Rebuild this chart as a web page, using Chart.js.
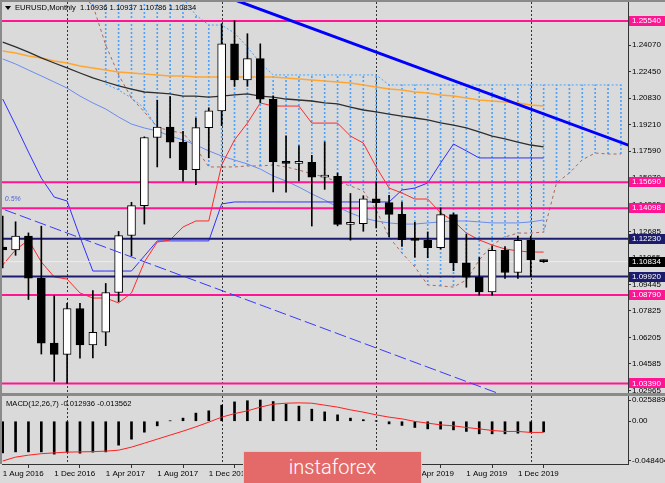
<!DOCTYPE html>
<html>
<head>
<meta charset="utf-8">
<script src="https://cdn.jsdelivr.net/npm/chart.js@4.4.1/dist/chart.umd.min.js"></script>
<style>
  html, body { margin: 0; padding: 0; background: #dadada; }
  #wrap { position: relative; width: 665px; height: 483px; overflow: hidden; background: #dadada; }
  #main { position: absolute; left: 0; top: 0; }
  #sub { position: absolute; left: 0; top: 395px; }
  #logo {
    position: absolute; left: 243px; top: 451px; width: 177px; height: 34px;
    background: #e46a6a; border: 1px solid #f2c4c4; color: #fff;
    font: 300 20px Roboto, "Open Sans", sans-serif; text-align: center; line-height: 30px;
  }
</style>
</head>
<body>
<div id="wrap">
  <canvas id="main" width="665" height="395"></canvas>
  <canvas id="sub" width="665" height="88"></canvas>
  <div id="logo">instaforex</div>
</div>
<script>
const months = ['Aug 2016','Sep 2016','Oct 2016','Nov 2016','Dec 2016','Jan 2017','Feb 2017','Mar 2017','Apr 2017',
  'May 2017','Jun 2017','Jul 2017','Aug 2017','Sep 2017','Oct 2017','Nov 2017','Dec 2017','Jan 2018','Feb 2018',
  'Mar 2018','Apr 2018','May 2018','Jun 2018','Jul 2018','Aug 2018','Sep 2018','Oct 2018','Nov 2018','Dec 2018',
  'Jan 2019','Feb 2019','Mar 2019','Apr 2019','May 2019','Jun 2019','Jul 2019','Aug 2019','Sep 2019','Oct 2019',
  'Nov 2019','Dec 2019','Jan 2020','Feb 2020'];

const open  = [1.1172,1.1155,1.1240,1.0983,1.0586,1.0517,1.0797,1.0575,1.0652,1.0895,1.1243,1.1426,1.1842,1.1905,1.1813,1.1645,1.1902,1.2005,1.2414,1.2193,1.2324,1.2076,1.1692,1.1684,1.1690,1.1600,1.1604,1.1311,1.1316,1.1467,1.1444,1.1372,1.1217,1.1213,1.1168,1.1371,1.1076,1.0988,1.0899,1.1152,1.1017,1.1213,1.10936];
const high  = [1.1362,1.1327,1.1259,1.1300,1.0874,1.0829,1.0829,1.0906,1.0950,1.1268,1.1446,1.1846,1.2070,1.2092,1.1880,1.1961,1.2023,1.2537,1.2555,1.2476,1.2414,1.2097,1.1852,1.1791,1.1733,1.1815,1.1625,1.1500,1.1486,1.1570,1.1489,1.1448,1.1324,1.1265,1.1412,1.1380,1.1250,1.1109,1.1179,1.1175,1.1240,1.1239,1.10937];
const low   = [1.1045,1.1122,1.0852,1.0519,1.0352,1.0340,1.0494,1.0495,1.0570,1.0839,1.1119,1.1313,1.1662,1.1717,1.1575,1.1554,1.1718,1.1915,1.2154,1.2155,1.2055,1.1510,1.1508,1.1577,1.1301,1.1525,1.1302,1.1215,1.1269,1.1289,1.1234,1.1176,1.1110,1.1107,1.1160,1.1028,1.0927,1.0879,1.0879,1.0981,1.0981,1.0992,1.10786];
const close = [1.1155,1.1240,1.0983,1.0586,1.0517,1.0797,1.0575,1.0652,1.0895,1.1243,1.1426,1.1842,1.1905,1.1813,1.1645,1.1902,1.2005,1.2414,1.2193,1.2324,1.2076,1.1692,1.1684,1.1690,1.1600,1.1604,1.1311,1.1316,1.1467,1.1444,1.1372,1.1217,1.1213,1.1168,1.1371,1.1076,1.0988,1.0899,1.1152,1.1017,1.1213,1.10936,1.10834];

const tenkan = [1.1063,1.1155,1.1216,1.1081,1.0990,1.0977,1.0892,1.0861,1.0861,1.0831,1.0892,1.1081,1.1203,1.1216,1.1295,1.1332,1.1332,1.1674,1.1827,1.1930,1.2053,1.2034,1.2034,1.2034,1.1930,1.1930,1.1930,1.1851,1.1808,1.1662,1.1533,1.1503,1.1466,1.1466,1.1381,1.1332,1.1258,1.1216,1.1185,1.1161,1.1149,1.1142,1.1142];
const kijun  = [1.2077,1.1918,1.1753,1.1594,1.1478,1.1454,1.1234,1.1026,1.1026,1.1026,1.1026,1.1118,1.1210,1.1210,1.1210,1.1210,1.1210,1.1436,1.1448,1.1448,1.1448,1.1448,1.1448,1.1448,1.1448,1.1448,1.1448,1.1448,1.1448,1.1448,1.1448,1.1521,1.1533,1.1564,1.1686,1.1802,1.1760,1.1717,1.1717,1.1717,1.1717,1.1717,1.1717];

const maFast = [1.2322,1.2291,1.2254,1.2218,1.2181,1.2144,1.2095,1.2053,1.2016,1.1967,1.1924,1.1900,1.1882,1.1851,1.1827,1.1796,1.1760,1.1729,1.1704,1.1680,1.1649,1.1607,1.1576,1.1539,1.1497,1.1460,1.1417,1.1381,1.1350,1.1332,1.1320,1.1313,1.1313,1.1320,1.1326,1.1332,1.1332,1.1326,1.1320,1.1320,1.1320,1.1326,1.1338];
const maMid  = [1.2425,1.2395,1.2364,1.2328,1.2297,1.2267,1.2236,1.2206,1.2181,1.2157,1.2138,1.2120,1.2114,1.2108,1.2095,1.2095,1.2089,1.2095,1.2102,1.2108,1.2095,1.2089,1.2077,1.2071,1.2065,1.2053,1.2047,1.2028,1.2010,1.1998,1.1985,1.1973,1.1961,1.1949,1.1931,1.1918,1.1900,1.1876,1.1851,1.1833,1.1814,1.1796,1.1784];
const maSlow = [1.2370,1.2358,1.2340,1.2328,1.2309,1.2297,1.2279,1.2267,1.2254,1.2242,1.2236,1.2230,1.2224,1.2218,1.2218,1.2212,1.2212,1.2212,1.2212,1.2212,1.2212,1.2212,1.2205,1.2199,1.2193,1.2187,1.2181,1.2175,1.2163,1.2150,1.2138,1.2132,1.2120,1.2114,1.2102,1.2095,1.2083,1.2071,1.2065,1.2059,1.2053,1.2040,1.2034];

// cloud spans run 6 months past the last candle
const spanA = [1.3415,1.3293,1.3171,1.3049,1.2926,1.2804,1.2713,1.2650,1.2407,1.2224,1.2083,1.1998,1.1906,1.1882,1.1869,1.1778,1.1662,1.1662,1.1662,1.1668,1.1668,1.1674,1.1662,1.1643,1.1619,1.1601,1.1570,1.1546,1.1515,1.1399,1.1234,1.1136,1.1051,1.0941,1.0935,1.0928,1.0971,1.1093,1.1185,1.1234,1.1258,1.1258,1.1264,1.1564,1.1625,1.1706,1.1747,1.1741,1.1741];
const spanB = [1.2950,1.2950,1.2950,1.2950,1.2950,1.2950,1.2950,1.2950,1.2950,1.2950,1.2950,1.2950,1.2950,1.2950,1.2694,1.2590,1.2529,1.2529,1.2480,1.2395,1.2297,1.2224,1.2224,1.2224,1.2224,1.2224,1.2224,1.2224,1.2224,1.2224,1.2163,1.2163,1.2163,1.2163,1.2163,1.2163,1.2163,1.2163,1.2163,1.2163,1.2163,1.2163,1.2163,1.2163,1.2163,1.2163,1.2163,1.2163,1.2163];
// lower end of the hatch where it reaches below the brown span (Apr-Aug 2017)
const cloudEdgeIdx = [8, 9, 10, 11, 12];
const cloudEdge = [1.2169, 1.2132, 1.2083, 1.2022, 1.1900];

const macdHist   = [-0.0385,-0.0373,-0.0373,-0.0373,-0.0400,-0.0376,-0.0389,-0.0376,-0.0373,-0.0291,-0.0218,-0.0133,-0.0056,0.0005,0.0038,0.0099,0.0127,0.0196,0.0236,0.0250,0.0259,0.0240,0.0208,0.0184,0.0147,0.0114,0.0078,0.0038,0.0019,0.0001,-0.0032,-0.0051,-0.0076,-0.0093,-0.0096,-0.0105,-0.0124,-0.0153,-0.0153,-0.0153,-0.0145,-0.0136,-0.012936];
const macdSignal = [-0.0484,-0.0437,-0.0413,-0.0395,-0.0385,-0.0376,-0.0373,-0.0370,-0.0364,-0.0352,-0.0315,-0.0267,-0.0218,-0.0169,-0.0120,-0.0068,-0.0011,0.0050,0.0093,0.0127,0.0172,0.0208,0.0220,0.0224,0.0220,0.0196,0.0172,0.0139,0.0111,0.0078,0.0050,0.0029,-0.0002,-0.0023,-0.0044,-0.0056,-0.0076,-0.0093,-0.0112,-0.0124,-0.0124,-0.0136,-0.013562];

const priceTicks = [1.24070,1.22450,1.20830,1.19210,1.17590,1.15970,1.14305,1.12685,1.11065,1.09445,1.07825,1.06205,1.04585,1.02965];
const macdTicks = [0.025889, 0, -0.048404];
const pinkLevels = [1.25540, 1.15690, 1.14098, 1.08790, 1.03390];
const navyLevels = [1.12230, 1.09920];
const lastPrice = 1.10834;
const trendX = [18, 49], trendY = [1.2683, 1.1783];
const channelX = [-1, 40], channelY = [1.1434, 1.0234];
const yearStarts = [5, 17, 29, 41];
const labelIdx = [0, 4, 8, 12, 16, 20, 24, 28, 32, 36, 40];

const BG = '#dadada';
const PINK = '#ff1493', NAVY = '#1c1c6e', CLOUD = '#4aa3ff';
const X_MIN = -0.054, X_MAX = 48.55;

Chart.defaults.font.family = '"Liberation Sans", Arial, sans-serif';
Chart.defaults.font.size = 8;
Chart.defaults.color = '#000';

const pts = arr => arr.map((v, i) => ({ x: i, y: v }));
const hline = (v, color, width) => ({
  type: 'line', data: [{ x: -1, y: v }, { x: 50, y: v }],
  borderColor: color, borderWidth: width, pointRadius: 0, order: 30
});
const line = (data, color, width, dash, order) => ({
  type: 'line', data, borderColor: color, borderWidth: width, borderDash: dash || [],
  pointRadius: 0, tension: 0, order
});

// dotted fill for the cloud hatch
const pc = document.createElement('canvas');
pc.width = 1; pc.height = 4;
const pctx = pc.getContext('2d');
pctx.fillStyle = CLOUD;
pctx.fillRect(0, 0, 1, 2);
const hatch = document.getElementById('main').getContext('2d').createPattern(pc, 'repeat');

const hatchLow = spanA.map((v, i) => {
  const k = cloudEdgeIdx.indexOf(i);
  return k >= 0 ? Math.min(v, cloudEdge[k]) : v;
});
const hatchData = hatchLow.map((v, i) => spanB[i] > v ? { x: i, y: [v, spanB[i]] } : null).filter(Boolean);

const bodyColor = open.map((o, i) => close[i] >= o ? '#fff' : '#000');

function yearLines(chart) {
  const { ctx, chartArea: a, scales: { x } } = chart;
  ctx.save();
  ctx.strokeStyle = '#333';
  ctx.lineWidth = 1;
  ctx.setLineDash([2, 2]);
  yearStarts.forEach(i => {
    const px = Math.round(x.getPixelForValue(i)) + 0.5;
    ctx.beginPath(); ctx.moveTo(px, a.top); ctx.lineTo(px, a.bottom); ctx.stroke();
  });
  ctx.restore();
}

const mainDecor = {
  id: 'mainDecor',
  beforeDraw(chart) {
    const ctx = chart.ctx;
    ctx.save(); ctx.fillStyle = BG; ctx.fillRect(0, 0, chart.width, chart.height); ctx.restore();
  },
  beforeDatasetsDraw: yearLines,
  afterDraw(chart) {
    const { ctx, chartArea: a, scales: { x, y } } = chart;
    ctx.save();
    // value boxes on the price scale
    const boxes = pinkLevels.map(v => [v, PINK]).concat(navyLevels.map(v => [v, NAVY]), [[lastPrice, '#000']]);
    ctx.font = '8px "Liberation Sans"';
    ctx.textBaseline = 'middle';
    boxes.forEach(([v, c]) => {
      const py = y.getPixelForValue(v);
      ctx.fillStyle = c;
      ctx.fillRect(a.right + 1, Math.round(py) - 5, 36, 10);
      ctx.fillStyle = '#fff';
      ctx.fillText(v.toFixed(5), a.right + 4, py);
    });
    // title
    ctx.fillStyle = '#000';
    ctx.font = '7.6px "Liberation Sans"';
    ctx.fillText('EURUSD,Monthly  1.10936 1.10937 1.10786 1.10834', 15, 8);
    ctx.beginPath(); ctx.moveTo(5, 6); ctx.lineTo(11, 6); ctx.lineTo(8, 10); ctx.closePath(); ctx.fill();
    // channel label
    ctx.fillStyle = '#4a5fd0';
    ctx.font = 'italic 7px "Liberation Sans"';
    ctx.fillText('0.5%', x.getPixelForValue(channelX[0]) + 15, y.getPixelForValue(channelY[0]) - 5);
    // frame
    ctx.fillStyle = '#8a8a8a';
    ctx.fillRect(0, 0, chart.width, 2);
    ctx.fillRect(0, 0, 2, a.bottom);
    ctx.fillRect(0, a.bottom, chart.width, 2);
    ctx.fillStyle = '#333';
    ctx.fillRect(a.right, a.top, 1, a.bottom - a.top);
    ctx.restore();
  }
};

new Chart(document.getElementById('main'), {
  type: 'bar',
  data: {
    datasets: [
      { type: 'bar', data: hatchData, backgroundColor: hatch, barThickness: 1, grouped: false, borderWidth: 0, order: 100 },
      line(pts(spanB), CLOUD, 1, [2, 2], 95),
      line(cloudEdgeIdx.map((v, i) => ({ x: v, y: cloudEdge[i] })), CLOUD, 1, [2, 2], 95),
      line(pts(spanA), '#b0665a', 1, [3, 3], 94),
      line(pts(maSlow), '#ffa632', 1.5, null, 90),
      line(pts(maMid), '#2e2e2e', 1.3, null, 89),
      line(pts(maFast), '#6b8cf0', 1, null, 88),
      line(pts(kijun), '#3030ff', 1, null, 87),
      line(pts(tenkan), '#ff2a2a', 1, null, 86),
      hline(lastPrice, '#ececf4', 1),
      ...pinkLevels.map(v => hline(v, PINK, 2)),
      ...navyLevels.map(v => hline(v, NAVY, 2)),
      { type: 'bar', data: low.map((v, i) => ({ x: i, y: [v, high[i]] })),
        backgroundColor: '#000', barThickness: 1, grouped: false, borderWidth: 0, order: 20 },
      { type: 'bar', data: open.map((v, i) => ({ x: i, y: [v, close[i]] })),
        backgroundColor: bodyColor, borderColor: '#000', borderWidth: 1, borderSkipped: false,
        barThickness: 8, minBarLength: 2, grouped: false, order: 19 },
      line(trendX.map((v, i) => ({ x: v, y: trendY[i] })), '#0000ff', 3, null, 10),
      line(channelX.map((v, i) => ({ x: v, y: channelY[i] })), '#3a3aff', 1, [12, 4], 10)
    ]
  },
  options: {
    responsive: false,
    animation: false,
    layout: { padding: { left: 2, top: 2, bottom: 2, right: 0 } },
    plugins: { legend: { display: false }, tooltip: { enabled: false } },
    scales: {
      x: { type: 'linear', min: X_MIN, max: X_MAX, offset: false, display: false },
      y: {
        position: 'right', min: 1.02808, max: 1.26698,
        afterBuildTicks: s => { s.ticks = priceTicks.map(v => ({ value: v })); },
        afterFit: s => { s.width = 37; s.paddingTop = 0; s.paddingBottom = 0; },
        ticks: { callback: v => v.toFixed(5), padding: 1, color: '#000', font: { size: 8 } },
        grid: { drawOnChartArea: false, drawTicks: true, tickLength: 3, color: '#333' },
        border: { display: false }
      }
    }
  },
  plugins: [mainDecor]
});

const subDecor = {
  id: 'subDecor',
  beforeDraw(chart) {
    const ctx = chart.ctx;
    ctx.save(); ctx.fillStyle = BG; ctx.fillRect(0, 0, chart.width, chart.height); ctx.restore();
  },
  beforeDatasetsDraw: yearLines,
  afterDraw(chart) {
    const { ctx, chartArea: a } = chart;
    ctx.save();
    ctx.fillStyle = '#000';
    ctx.font = '7.6px "Liberation Sans"';
    ctx.textBaseline = 'middle';
    ctx.fillText('MACD(12,26,7) -0.012936 -0.013562', 6, 9);
    ctx.fillStyle = '#8a8a8a';
    ctx.fillRect(0, 0, 2, a.bottom);
    ctx.fillRect(0, 0, chart.width, 1);
    ctx.fillStyle = '#333';
    ctx.fillRect(a.right, a.top, 1, a.bottom - a.top);
    ctx.restore();
  }
};

new Chart(document.getElementById('sub'), {
  type: 'bar',
  data: {
    datasets: [
      { type: 'bar', data: pts(macdHist), backgroundColor: '#000', barThickness: 2, grouped: false, order: 20 },
      line(pts(macdSignal), '#ff2020', 1, null, 10)
    ]
  },
  options: {
    responsive: false,
    animation: false,
    layout: { padding: { left: 2, top: 1, bottom: 0, right: 0 } },
    plugins: { legend: { display: false }, tooltip: { enabled: false } },
    scales: {
      x: {
        type: 'linear', min: X_MIN, max: X_MAX, offset: false,
        afterBuildTicks: s => { s.ticks = labelIdx.map(v => ({ value: v })); },
        afterFit: s => { s.height = 19; s.paddingLeft = 0; s.paddingRight = 0; },
        ticks: { callback: v => '1 ' + months[v], align: 'start', maxRotation: 0, autoSkip: false, padding: 1, color: '#000', font: { size: 8 } },
        grid: { drawOnChartArea: false, drawTicks: true, tickLength: 4, color: '#333' },
        border: { display: true, color: '#333', width: 1 }
      },
      y: {
        position: 'right', min: -0.052058, max: 0.030761,
        afterBuildTicks: s => { s.ticks = macdTicks.map(v => ({ value: v })); },
        afterFit: s => { s.width = 37; s.paddingTop = 0; s.paddingBottom = 0; },
        ticks: { callback: v => v === 0 ? '0.00' : v.toFixed(6), padding: 1, color: '#000', font: { size: 8 } },
        grid: { drawOnChartArea: false, drawTicks: true, tickLength: 3, color: '#333' },
        border: { display: false }
      }
    }
  },
  plugins: [subDecor]
});
</script>
</body>
</html>
